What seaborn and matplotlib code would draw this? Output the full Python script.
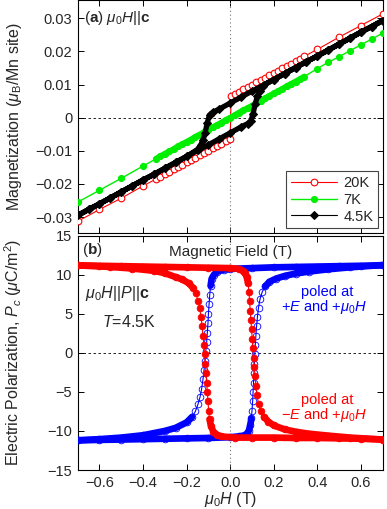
import numpy as np
import matplotlib
matplotlib.use("Agg")
import matplotlib.pyplot as plt
import seaborn as sns

# (a) magnetization, mu_B / Mn site
h_20k = [-0.70, -0.60, -0.50, -0.40, -0.34, -0.32, -0.30, -0.28, -0.26, -0.24, -0.22, -0.20,
         -0.18, -0.16, -0.14, -0.12, -0.10, -0.08, -0.06, -0.04, -0.02, 0.00,
         0.004, 0.02, 0.04, 0.06, 0.08, 0.10, 0.12, 0.14, 0.16, 0.18, 0.20, 0.22, 0.24,
         0.26, 0.28, 0.30, 0.32, 0.34, 0.40, 0.50, 0.60, 0.70]
m_20k = [-0.0313, -0.0277, -0.0243, -0.0206, -0.0185, -0.0178, -0.0171, -0.0163, -0.0156,
         -0.0149, -0.0142, -0.0135, -0.0128, -0.0121, -0.0114, -0.0107, -0.0100, -0.0092,
         -0.0085, -0.0078, -0.0071, -0.0064,
         0.0064, 0.0071, 0.0078, 0.0085, 0.0092, 0.0100, 0.0107, 0.0114, 0.0121, 0.0128,
         0.0135, 0.0142, 0.0149, 0.0156, 0.0163, 0.0171, 0.0178, 0.0185, 0.0206, 0.0243,
         0.0278, 0.0313]

h_7k = [-0.70, -0.60, -0.50, -0.40, -0.34, -0.32, -0.30, -0.28, -0.26, -0.24, -0.22, -0.20,
        -0.18, -0.16, -0.14, -0.12, -0.10, -0.08, -0.06, -0.04, -0.02, 0.00, 0.02, 0.04,
        0.06, 0.08, 0.10, 0.12, 0.14, 0.16, 0.18, 0.20, 0.22, 0.24, 0.26, 0.28, 0.30, 0.32,
        0.34, 0.40, 0.45, 0.50, 0.55, 0.60, 0.65, 0.70]
m_7k = [-0.0255, -0.0219, -0.0183, -0.0146, -0.0124, -0.0116, -0.0109, -0.0102, -0.0095,
        -0.0087, -0.0080, -0.0073, -0.0066, -0.0058, -0.0051, -0.0044, -0.0036, -0.0029,
        -0.0022, -0.0015, -0.0007, 0.0000, 0.0007, 0.0015, 0.0022, 0.0029, 0.0036, 0.0044,
        0.0051, 0.0058, 0.0066, 0.0073, 0.0080, 0.0087, 0.0095, 0.0102, 0.0109, 0.0116,
        0.0124, 0.0148, 0.0167, 0.0184, 0.0202, 0.0220, 0.0237, 0.0255]

# 4.5K: sweep down from +0.7 T, then back up
h_45k = [0.70, 0.65, 0.60, 0.55, 0.50, 0.45, 0.40, 0.35, 0.30, 0.25, 0.20, 0.15, 0.10, 0.05,
         0.00, -0.05, -0.08, -0.095, -0.105, -0.115, -0.125, -0.135, -0.15, -0.20, -0.25,
         -0.30, -0.35, -0.40, -0.45, -0.50, -0.55, -0.60, -0.65, -0.70,
         -0.65, -0.60, -0.55, -0.50, -0.45, -0.40, -0.35, -0.30, -0.25, -0.20, -0.15, -0.10,
         -0.05, 0.00, 0.05, 0.08, 0.095, 0.105, 0.115, 0.125, 0.135, 0.15, 0.20, 0.25, 0.30,
         0.35, 0.40, 0.45, 0.50, 0.55, 0.60, 0.65, 0.70]
m_45k = [0.0293, 0.0275, 0.0258, 0.0240, 0.0222, 0.0204, 0.0186, 0.0169, 0.0151, 0.0133,
         0.0115, 0.0097, 0.0080, 0.0062, 0.0044, 0.0026, 0.0016, 0.0008, -0.0015, -0.0045,
         -0.0067, -0.0082, -0.0096, -0.0117, -0.0135, -0.0153, -0.0171, -0.0188, -0.0206,
         -0.0224, -0.0242, -0.0260, -0.0277, -0.0295,
         -0.0277, -0.0260, -0.0242, -0.0224, -0.0206, -0.0188, -0.0171, -0.0153, -0.0135,
         -0.0117, -0.0099, -0.0082, -0.0064, -0.0046, -0.0028, -0.0018, -0.0010, 0.0012,
         0.0042, 0.0065, 0.0080, 0.0097, 0.0115, 0.0133, 0.0151, 0.0169, 0.0186, 0.0204,
         0.0222, 0.0240, 0.0258, 0.0275, 0.0293]

# (b) polarization, uC/m^2, T = 4.5K
# poled at +E: sweep down, sweep up
h_blue_dn = [0.70, 0.60, 0.50, 0.40, 0.30, 0.20, 0.10, 0.00, -0.03, -0.06, -0.075, -0.085,
             -0.09, -0.094, -0.097, -0.100, -0.102, -0.105, -0.108, -0.112, -0.116, -0.120,
             -0.125, -0.131, -0.138, -0.148, -0.160, -0.175, -0.20, -0.25, -0.30, -0.40,
             -0.50, -0.60, -0.70]
p_blue_dn = [11.2, 11.15, 11.1, 11.05, 11.0, 10.95, 10.85, 10.75, 10.65, 10.4, 10.0, 9.5,
             8.6, 7.4, 6.2, 5.0, 3.8, 2.6, 1.4, 0.2, -1.0, -2.2, -3.4, -4.6, -5.6, -6.6,
             -7.5, -8.2, -8.9, -9.6, -10.0, -10.55, -10.85, -11.05, -11.2]
h_blue_up = [-0.70, -0.60, -0.50, -0.40, -0.30, -0.20, -0.10, 0.00, 0.04, 0.06, 0.075, 0.085,
             0.092, 0.097, 0.100, 0.103, 0.105, 0.107, 0.109, 0.111, 0.113, 0.115, 0.118,
             0.121, 0.125, 0.130, 0.137, 0.147, 0.160, 0.18, 0.21, 0.25, 0.30, 0.36, 0.45,
             0.55, 0.70]
p_blue_up = [-11.2, -11.15, -11.1, -11.05, -11.0, -10.95, -10.9, -10.8, -10.7, -10.6, -10.4,
             -10.0, -9.3, -8.4, -7.4, -6.2, -5.0, -3.8, -2.6, -1.4, -0.2, 1.0, 2.2, 3.4, 4.6,
             5.8, 6.9, 7.8, 8.5, 9.1, 9.5, 9.85, 10.15, 10.4, 10.7, 10.95, 11.25]
# poled at -E: sweep up, sweep down
h_red_up = [-0.70, -0.60, -0.50, -0.40, -0.30, -0.20, -0.10, 0.00, 0.04, 0.06, 0.068, 0.076,
            0.082, 0.086, 0.089, 0.092, 0.095, 0.098, 0.101, 0.104, 0.107, 0.110, 0.114,
            0.118, 0.123, 0.130, 0.140, 0.155, 0.175, 0.20, 0.25, 0.30, 0.36, 0.45, 0.55,
            0.70]
p_red_up = [11.2, 11.15, 11.1, 11.05, 11.0, 10.95, 10.9, 10.85, 10.75, 10.5, 10.2, 9.7, 8.9,
            7.8, 6.6, 5.4, 4.2, 3.0, 1.8, 0.6, -0.6, -1.8, -3.0, -4.2, -5.4, -6.5, -7.5, -8.2,
            -8.8, -9.3, -9.8, -10.1, -10.35, -10.6, -10.85, -11.1]
h_red_dn = [0.70, 0.60, 0.50, 0.40, 0.30, 0.20, 0.10, 0.02, -0.04, -0.06, -0.077, -0.088,
            -0.095, -0.099, -0.102, -0.105, -0.108, -0.111, -0.114, -0.117, -0.121, -0.125,
            -0.129, -0.134, -0.140, -0.148, -0.158, -0.17, -0.19, -0.22, -0.25, -0.30, -0.35,
            -0.45, -0.55, -0.70]
p_red_dn = [-11.1, -11.0, -10.95, -10.9, -10.9, -10.85, -10.85, -10.85, -10.7, -10.5, -10.1,
            -9.4, -8.5, -7.4, -6.2, -5.0, -3.8, -2.6, -1.4, -0.2, 1.0, 2.2, 3.4, 4.6, 5.7,
            6.7, 7.6, 8.3, 8.9, 9.4, 9.7, 10.2, 10.5, 10.8, 11.0, 11.2]

sns.set_style("ticks")
plt.rcParams["font.family"] = ["Liberation Sans", "DejaVu Sans"]
plt.rcParams["mathtext.fontset"] = "custom"
plt.rcParams["mathtext.rm"] = "Liberation Sans"
plt.rcParams["mathtext.it"] = "Liberation Sans:italic"
plt.rcParams["mathtext.bf"] = "Liberation Sans:bold"
plt.rcParams["axes.linewidth"] = 0.8

RED, GREEN, BLUE = "#ff0000", "#00ee00", "#0000ff"

fig = plt.figure(figsize=(3.87, 5.09), dpi=100)
ax1 = fig.add_axes([77.7 / 387, 276 / 509, 305 / 387, 233 / 509])
ax2 = fig.add_axes([77.7 / 387, 39 / 509, 305 / 387, 234.3 / 509])


def band(ax, h, y, keep, color, lw, z):
    # dense runs of markers look like a solid band
    y = np.asarray(y, dtype=float)
    ax.plot(h, np.where(keep, y, np.nan), color=color, lw=lw,
            solid_capstyle="round", zorder=z)


# ---- (a)
sns.lineplot(x=h_20k, y=m_20k, ax=ax1, sort=False, estimator=None, color=RED, lw=0.8,
             marker="o", ms=4.8, mfc="white", mec=RED, mew=0.8, label="20K", zorder=3)
band(ax1, h_7k, m_7k, np.abs(np.asarray(h_7k)) <= 0.345, GREEN, 4.2, 4)
sns.lineplot(x=h_7k, y=m_7k, ax=ax1, sort=False, estimator=None, color=GREEN, lw=1.0,
             marker="o", ms=4.4, mfc=GREEN, mec=GREEN, label="7K", zorder=4)
band(ax1, h_45k, m_45k, np.ones(len(h_45k), bool), "black", 3.8, 5)
sns.lineplot(x=h_45k, y=m_45k, ax=ax1, sort=False, estimator=None, color="black", lw=0.8,
             marker="D", ms=3.8, mfc="black", mec="black", label="4.5K", zorder=5)

ax1.axhline(0, color="black", lw=0.6, ls=(0, (3, 3)), zorder=1)
ax1.axvline(0, color="#777777", lw=0.8, ls=(0, (1, 2.5)), zorder=1)
ax1.set_xlim(-0.7, 0.7)
ax1.set_ylim(-0.0348, 0.0355)
ax1.set_yticks([-0.03, -0.02, -0.01, 0, 0.01, 0.02, 0.03])
ax1.set_yticklabels(["\u22120.03", "\u22120.02", "\u22120.01", "0", "0.01", "0.02", "0.03"])
ax1.set_xticks([-0.6, -0.4, -0.2, 0, 0.2, 0.4, 0.6])
ax1.set_xticklabels([])
ax1.set_ylabel(r"Magnetization ($\mu_\mathrm{B}$/Mn site)", fontsize=11.5)
ax1.yaxis.set_label_coords(-0.175, 0.5)
ax1.text(-0.669, 0.0302, r"($\mathbf{a}$) $\mu_0H$||$\mathbf{c}$", fontsize=11,
         ha="left", va="center")
leg = ax1.legend(loc="lower right", fontsize=10.5, handlelength=3.2, borderaxespad=0.35,
                 fancybox=False, framealpha=1, edgecolor="#444444", borderpad=0.3,
                 labelspacing=0.2, handletextpad=0.4)
leg.get_frame().set_linewidth(0.8)

# ---- (b)
for h, p, c, z in [(h_blue_dn, p_blue_dn, BLUE, 3), (h_blue_up, p_blue_up, BLUE, 3),
                   (h_red_up, p_red_up, RED, 5), (h_red_dn, p_red_dn, RED, 5)]:
    band(ax2, h, p, np.abs(np.asarray(p)) >= 8, c, 4.8, z)
    filled = c == RED
    sns.lineplot(x=h, y=p, ax=ax2, sort=False, estimator=None, color=c, lw=0.8,
                 marker="o", ms=4.8, mfc=c if filled else "none", mec=c,
                 mew=0.6, zorder=z + 1)

ax2.axhline(0, color="black", lw=0.6, ls=(0, (3, 3)), zorder=1)
ax2.axvline(0, color="#777777", lw=0.8, ls=(0, (1, 2.5)), zorder=1)
ax2.set_xlim(-0.7, 0.7)
ax2.set_ylim(-15, 15)
ax2.set_yticks([-15, -10, -5, 0, 5, 10, 15])
ax2.set_xticks([-0.6, -0.4, -0.2, 0, 0.2, 0.4, 0.6])
ax2.set_xlabel(r"$\mu_0H$ (T)", fontsize=11.5)
ax2.xaxis.set_label_coords(0.5, -0.085)
ax2.set_ylabel(r"Electric Polarization, $P_c$ ($\mu$C/m$^2$)", fontsize=11.5)
ax2.yaxis.set_label_coords(-0.175, 0.5)

ax2.text(-0.681, 13.2, r"($\mathbf{b}$)", fontsize=11, ha="left", va="center")
ax2.text(0, 12.95, "Magnetic Field (T)", fontsize=11, ha="center", va="center")
ax2.text(-0.666, 7.65, r"$\mu_0H$||$P$||$\mathbf{c}$", fontsize=11.5, ha="left", va="center")
ax2.text(-0.589, 4.0, r"$T$=4.5K", fontsize=11.5, ha="left", va="center")
ax2.text(0.445, 7.8, "poled at", fontsize=10.5, color=BLUE, ha="center", va="center")
ax2.text(0.43, 5.9, r"+$E$ and +$\mu_0H$", fontsize=10.5, color=BLUE, ha="center", va="center")
ax2.text(0.445, -6.05, "poled at", fontsize=10.5, color=RED, ha="center", va="center")
ax2.text(0.43, -8.0, "\u2212" + r"$E$ and +$\mu_0H$", fontsize=10.5, color=RED,
         ha="center", va="center")

for ax in (ax1, ax2):
    ax.tick_params(direction="in", length=4, width=0.7, top=True, right=True,
                   labelsize=10.5, pad=4, color="black")
    for s in ax.spines.values():
        s.set_visible(True)
        s.set_color("black")

fig.savefig("out.png", dpi=100)
